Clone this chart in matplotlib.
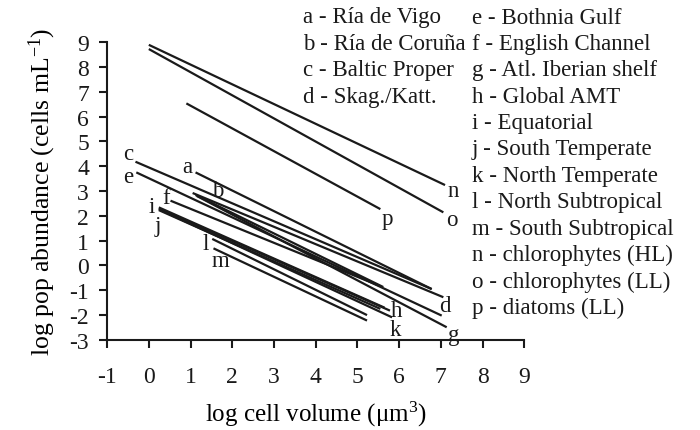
import matplotlib
matplotlib.use("Agg")
import matplotlib.pyplot as plt

plt.rcParams["font.family"] = ["Liberation Serif", "DejaVu Serif"]
plt.rcParams["mathtext.fontset"] = "custom"
plt.rcParams["mathtext.rm"] = "Liberation Serif"
plt.rcParams["mathtext.it"] = "Liberation Serif:italic"
plt.rcParams["mathtext.default"] = "regular"
plt.rcParams["axes.unicode_minus"] = False

# regression lines: letter, start (x, y) and end (x, y)
letters = ["a", "b", "c", "d", "e", "f", "g", "h",
           "i", "j", "k", "l", "m", "n", "o", "p"]
x_start = [1.12, 1.12, -0.32, 1.05, -0.30, 0.52, 1.15, 0.24,
           0.24, 0.24, 0.24, 1.52, 1.55, 0.00, 0.00, 0.90]
y_start = [3.75, 2.84, 4.18, 2.92, 3.75, 2.61, 2.80, 2.30,
           2.34, 2.23, 2.27, 1.07, 0.69, 8.89, 8.72, 6.53]
x_end = [6.78, 5.62, 6.78, 7.06, 7.02, 5.50, 7.14, 5.78,
         5.65, 5.55, 5.83, 5.23, 5.23, 7.10, 7.06, 5.55]
y_end = [-0.95, -0.87, -0.95, -1.28, -2.02, -0.80, -2.49, -1.82,
         -1.70, -1.75, -2.09, -2.00, -2.22, 3.24, 2.14, 2.27]

legend_col1 = ["a - Ría de Vigo", "b - Ría de Coruña",
               "c - Baltic Proper", "d - Skag./Katt."]
legend_col2 = ["e - Bothnia Gulf", "f - English Channel",
               "g - Atl. Iberian shelf", "h - Global AMT",
               "i - Equatorial", "j - South Temperate",
               "k - North Temperate", "l - North Subtropical",
               "m - South Subtropical", "n - chlorophytes (HL)",
               "o - chlorophytes (LL)", "p - diatoms (LL)"]

xticks = list(range(-1, 10))
yticks = list(range(-3, 10))

# where each letter sits: which end of its line, and offset in points
label_at = {
    "a": ("start", (-6, 4)), "b": ("start", (16, 3)),
    "c": ("start", (-5, 6)), "d": ("end", (1, -6)),
    "e": ("start", (-6, -3)), "f": ("start", (-3, 2)),
    "g": ("end", (5, -5)), "h": ("end", (5, 0)),
    "i": ("start", (-5, 1)), "j": ("start", (-1, -11)),
    "k": ("end", (2, -9)), "l": ("start", (-5, -3)),
    "m": ("start", (5, -9)), "n": ("end", (6, -4)),
    "o": ("end", (6, -5)), "p": ("end", (5, -7)),
}

FS = 16.5
fig = plt.figure(figsize=(7.0, 4.31), dpi=100)
ax = fig.add_axes([0.153, 0.209, 0.596, 0.691])

for i, let in enumerate(letters):
    ax.plot([x_start[i], x_end[i]], [y_start[i], y_end[i]],
            color="#1a1a1a", lw=1.6, solid_capstyle="butt")
    where, off = label_at[let]
    xy = (x_start[i], y_start[i]) if where == "start" else (x_end[i], y_end[i])
    ax.annotate(let, xy=xy, xytext=off, textcoords="offset points",
                ha="center", va="center", fontsize=FS, color="#1a1a1a")

ax.set_xlim(-1, 9)
ax.set_ylim(-3, 9)
ax.set_xticks(xticks)
ax.set_yticks(yticks)
ax.spines["top"].set_visible(False)
ax.spines["right"].set_visible(False)
for s in ["left", "bottom"]:
    ax.spines[s].set_linewidth(1.5)
    ax.spines[s].set_color("#1a1a1a")
ax.tick_params(direction="out", length=6, width=1.5, labelsize=17,
               colors="#1a1a1a")
ax.tick_params(axis="x", pad=13)
ax.tick_params(axis="y", pad=7)
ax.set_xlabel("log cell volume ($\\mu$m$^3$)", fontsize=18, labelpad=8)
ax.set_ylabel("log pop abundance (cells mL$^{-1}$)", fontsize=18.5,
              labelpad=8)

row_h = 26.4 / 431
for k, txt in enumerate(legend_col1):
    fig.text(303 / 700, 1 - 18 / 431 - k * row_h, txt, fontsize=FS,
             va="center", ha="left", color="#1a1a1a")
for k, txt in enumerate(legend_col2):
    fig.text(472 / 700, 1 - 18 / 431 - k * row_h, txt, fontsize=FS,
             va="center", ha="left", color="#1a1a1a")

fig.savefig("out.png", dpi=100)
